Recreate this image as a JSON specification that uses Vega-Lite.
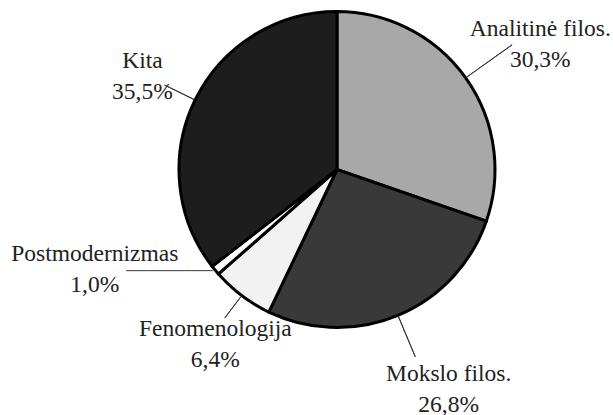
{
  "$schema": "https://vega.github.io/schema/vega-lite/v6.json",
  "width": 400,
  "height": 339,
  "padding": {"left": 137, "top": 0, "right": 76, "bottom": 76},
  "autosize": {"type": "none"},
  "background": "white",
  "config": {"view": {"stroke": null}},
  "data": {"values": [
    {"i": 1, "name": "Analitinė filos.", "value": 30.3, "label": "Analitinė filos.\n30,3%"},
    {"i": 2, "name": "Mokslo filos.", "value": 26.8, "label": "Mokslo filos.\n26,8%"},
    {"i": 3, "name": "Fenomenologija", "value": 6.4, "label": "Fenomenologija\n6,4%"},
    {"i": 4, "name": "Postmodernizmas", "value": 1.0, "label": "Postmodernizmas\n1,0%"},
    {"i": 5, "name": "Kita", "value": 35.5, "label": "Kita\n35,5%"}
  ]},
  "transform": [
    {"stack": "value", "groupby": [], "sort": [{"field": "i", "order": "ascending"}], "as": ["v0", "v1"]},
    {"fold": ["v0", "v1"], "as": ["edge", "ang"]},
    {"aggregate": [
      {"op": "min", "field": "ang", "as": "a0"},
      {"op": "max", "field": "ang", "as": "a1"},
      {"op": "mean", "field": "ang", "as": "mid"}
    ], "groupby": ["i", "name", "value", "label"]}
  ],
  "layer": [
    {
      "mark": {"type": "arc", "outerRadius": 158, "stroke": "#000000", "strokeWidth": 3},
      "encoding": {
        "theta": {"field": "a0", "type": "quantitative", "stack": null, "scale": {"domain": [0, 100]}},
        "theta2": {"field": "a1"},
        "color": {"field": "name", "type": "nominal", "legend": null,
          "scale": {"domain": ["Analitinė filos.", "Mokslo filos.", "Fenomenologija", "Postmodernizmas", "Kita"],
                    "range": ["#a8a8a8", "#393939", "#f2f2f2", "#ffffff", "#1d1d1d"]}}
      }
    },
    {
      "transform": [{"filter": "datum.name === 'Analitinė filos.'"}],
      "mark": {"type": "arc", "innerRadius": 159, "outerRadius": 215, "fillOpacity": 0, "stroke": "#333333", "strokeWidth": 1},
      "encoding": {"theta": {"field": "mid", "type": "quantitative", "stack": null}, "theta2": {"field": "mid"}}
    },
    {
      "transform": [{"filter": "datum.name === 'Mokslo filos.'"}],
      "mark": {"type": "arc", "innerRadius": 159, "outerRadius": 203, "fillOpacity": 0, "stroke": "#333333", "strokeWidth": 1},
      "encoding": {"theta": {"field": "mid", "type": "quantitative", "stack": null}, "theta2": {"field": "mid"}}
    },
    {
      "transform": [{"filter": "datum.name === 'Fenomenologija'"}],
      "mark": {"type": "arc", "innerRadius": 159, "outerRadius": 186, "fillOpacity": 0, "stroke": "#333333", "strokeWidth": 1},
      "encoding": {"theta": {"field": "mid", "type": "quantitative", "stack": null}, "theta2": {"field": "mid"}}
    },
    {
      "transform": [{"filter": "datum.name === 'Kita'"}],
      "mark": {"type": "arc", "innerRadius": 159, "outerRadius": 192, "fillOpacity": 0, "stroke": "#333333", "strokeWidth": 1},
      "encoding": {"theta": {"field": "mid", "type": "quantitative", "stack": null}, "theta2": {"field": "mid"}}
    },
    {
      "transform": [{"filter": "datum.name === 'Postmodernizmas'"}],
      "mark": {"type": "text", "font": "DejaVu Sans", "fontSize": 12, "radius": 154.5, "align": "right", "baseline": "alphabetic", "dx": -5, "dy": 7, "color": "#444444"},
      "encoding": {"theta": {"field": "mid", "type": "quantitative", "stack": null}, "text": {"value": "────────────"}}
    },
    {
      "transform": [{"filter": "datum.name === 'Analitinė filos.'"}],
      "mark": {"type": "text", "font": "Liberation Serif", "fontSize": 23.5, "lineHeight": 31, "lineBreak": "\n", "radius": 230, "align": "center", "baseline": "middle", "dx": 16, "dy": -7.5, "color": "#222222"},
      "encoding": {"theta": {"field": "mid", "type": "quantitative", "stack": null}, "text": {"field": "label"}}
    },
    {
      "transform": [{"filter": "datum.name === 'Mokslo filos.'"}],
      "mark": {"type": "text", "font": "Liberation Serif", "fontSize": 23.5, "lineHeight": 31, "lineBreak": "\n", "radius": 230, "align": "center", "baseline": "middle", "dx": 23, "dy": -7.5, "color": "#222222"},
      "encoding": {"theta": {"field": "mid", "type": "quantitative", "stack": null}, "text": {"field": "label"}}
    },
    {
      "transform": [{"filter": "datum.name === 'Fenomenologija'"}],
      "mark": {"type": "text", "font": "Liberation Serif", "fontSize": 23.5, "lineHeight": 31, "lineBreak": "\n", "radius": 230, "align": "center", "baseline": "middle", "dx": 17, "dy": -24, "color": "#222222"},
      "encoding": {"theta": {"field": "mid", "type": "quantitative", "stack": null}, "text": {"field": "label"}}
    },
    {
      "transform": [{"filter": "datum.name === 'Postmodernizmas'"}],
      "mark": {"type": "text", "font": "Liberation Serif", "fontSize": 23.5, "lineHeight": 31, "lineBreak": "\n", "radius": 230, "align": "center", "baseline": "middle", "dx": -65, "dy": -62.5, "color": "#222222"},
      "encoding": {"theta": {"field": "mid", "type": "quantitative", "stack": null}, "text": {"field": "label"}}
    },
    {
      "transform": [{"filter": "datum.name === 'Kita'"}],
      "mark": {"type": "text", "font": "Liberation Serif", "fontSize": 23.5, "lineHeight": 31, "lineBreak": "\n", "radius": 230, "align": "center", "baseline": "middle", "dx": 12, "dy": -7, "color": "#222222"},
      "encoding": {"theta": {"field": "mid", "type": "quantitative", "stack": null}, "text": {"field": "label"}}
    }
  ]
}
